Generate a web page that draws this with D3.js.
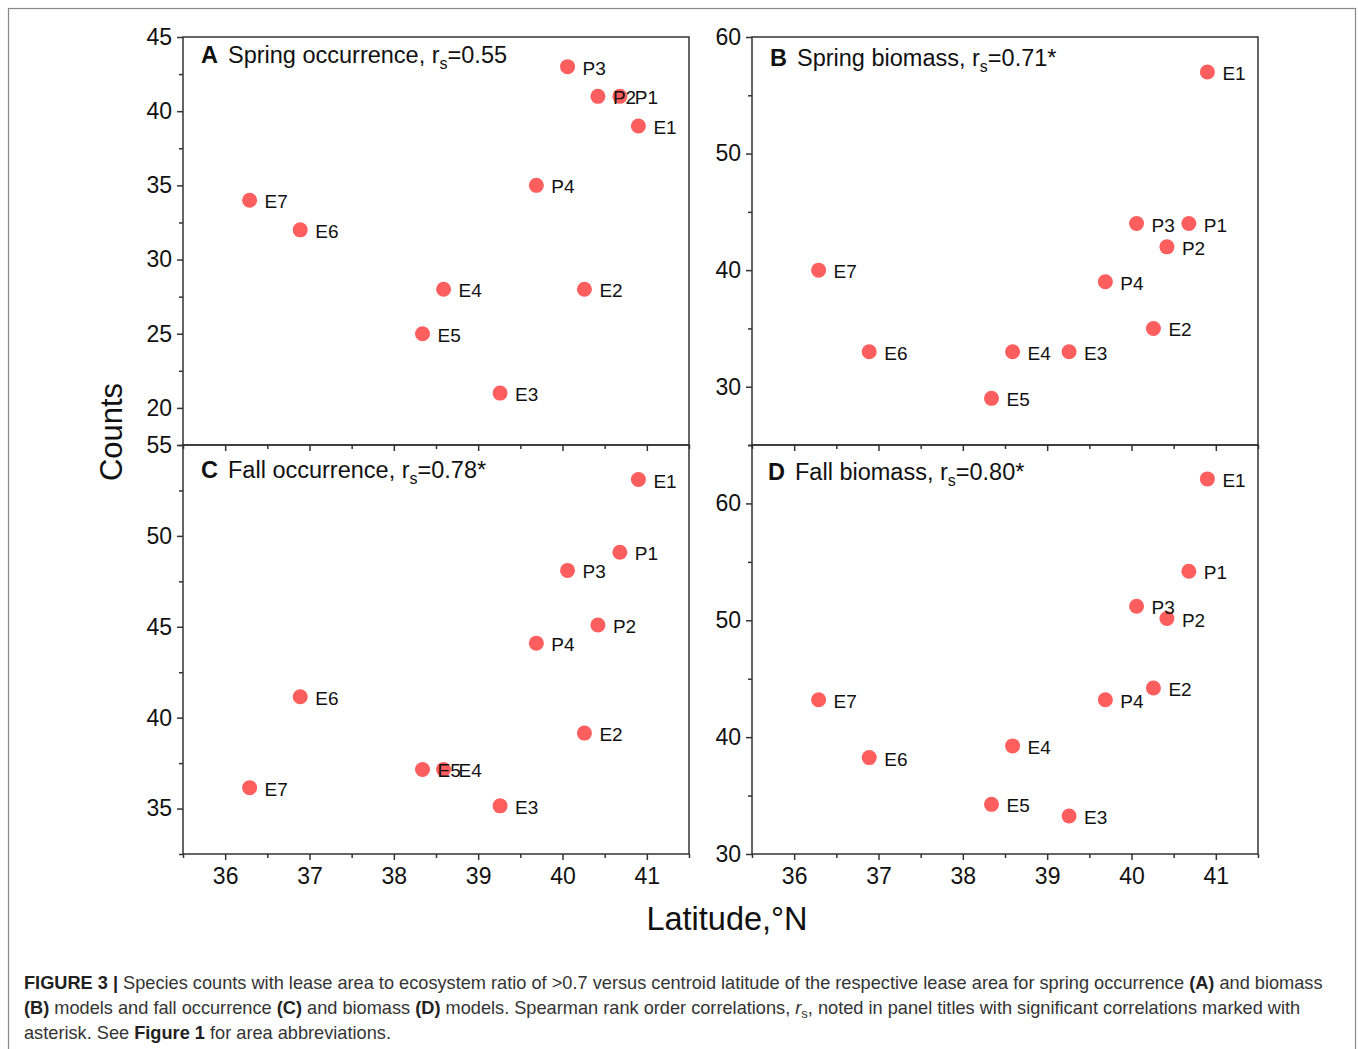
<!DOCTYPE html>
<html>
<head>
<meta charset="utf-8">
<script src="https://cdn.jsdelivr.net/npm/d3@7"></script>
<style>
  body { margin: 0; background: #fff; }
  svg { display: block; font-family: "Liberation Sans", Arial, sans-serif; }
  .axis path, .axis line { stroke: #333; stroke-width: 1.5; }
  .axis text { font-size: 23px; fill: #111; font-family: "Liberation Sans", Arial, sans-serif; }
  .lbl { font-size: 19px; fill: #111; }
</style>
</head>
<body>
<svg id="fig" width="1358" height="1049"></svg>
<script>

// site names and centroid latitude
var sites = ["E1", "E2", "E3", "E4", "E5", "E6", "E7", "P1", "P2", "P3", "P4"];
var latitude = [40.90, 40.26, 39.26, 38.59, 38.34, 36.89, 36.29, 40.68, 40.42, 40.06, 39.69];

// species counts per panel
var springOcc = [39, 28, 21, 28, 25, 32, 34, 41, 41, 43, 35];
var springBio = [57, 35, 33, 33, 29, 33, 40, 44, 42, 44, 39];
var fallOcc = [53.1, 39.15, 35.15, 37.15, 37.15, 41.15, 36.15, 49.1, 45.1, 48.1, 44.1];
var fallBio = [62.1, 44.2, 33.25, 39.25, 34.25, 38.25, 43.2, 54.2, 50.15, 51.2, 43.2];

// tick labels
var xTicks = [36, 37, 38, 39, 40, 41];
var yTicksA = [20, 25, 30, 35, 40, 45];
var yTicksB = [30, 40, 50, 60];
var yTicksC = [35, 40, 45, 50, 55];
var yTicksD = [30, 40, 50, 60];

var svg = d3.select("#fig");

// outer frame
svg.append("rect")
    .attr("x", 8.5).attr("y", 8.5)
    .attr("width", 1347).attr("height", 1060)
    .attr("fill", "none")
    .attr("stroke", "#888")
    .attr("stroke-width", 1.2);

function drawPanel(opt) {
    var x = d3.scaleLinear().domain([35.5, 41.5]).range([opt.left, opt.right]);
    var y = d3.scaleLinear().domain(opt.yDomain).range([opt.bottom, opt.top]);
    var g = svg.append("g");

    // box
    g.append("rect")
        .attr("x", opt.left).attr("y", opt.top)
        .attr("width", opt.right - opt.left)
        .attr("height", opt.bottom - opt.top)
        .attr("fill", "none")
        .attr("stroke", "#333")
        .attr("stroke-width", 1.5);

    // minor y ticks
    function isMajor(v) {
        return opt.yTicks.some(function(t) { return Math.abs(t - v) < 1e-6; });
    }
    var minorY = d3.range(opt.yDomain[0], opt.yDomain[1] + 0.001, opt.minorStep)
        .filter(function(v) { return !isMajor(v); });
    g.append("g")
        .attr("class", "axis")
        .attr("transform", "translate(" + opt.left + ",0)")
        .call(d3.axisLeft(y).tickValues(minorY).tickSize(4).tickFormat(""))
        .select(".domain").remove();

    // major y ticks
    g.append("g")
        .attr("class", "axis")
        .attr("transform", "translate(" + opt.left + ",0)")
        .call(d3.axisLeft(y).tickValues(opt.yTicks).tickSize(6).tickPadding(5).tickFormat(d3.format("d")))
        .select(".domain").remove();

    var minorX = [35.5, 36.5, 37.5, 38.5, 39.5, 40.5, 41.5];

    if (opt.xTop) {
        // ticks pointing down into the panel from the top edge
        g.append("g")
            .attr("class", "axis")
            .attr("transform", "translate(0," + opt.top + ")")
            .call(d3.axisBottom(x).tickValues(xTicks).tickSize(6).tickFormat(""))
            .select(".domain").remove();
        g.append("g")
            .attr("class", "axis")
            .attr("transform", "translate(0," + opt.top + ")")
            .call(d3.axisBottom(x).tickValues(minorX).tickSize(4).tickFormat(""))
            .select(".domain").remove();
    }
    if (opt.xBottom) {
        g.append("g")
            .attr("class", "axis")
            .attr("transform", "translate(0," + opt.bottom + ")")
            .call(d3.axisBottom(x).tickValues(minorX).tickSize(4).tickFormat(""))
            .select(".domain").remove();
        g.append("g")
            .attr("class", "axis")
            .attr("transform", "translate(0," + opt.bottom + ")")
            .call(d3.axisBottom(x).tickValues(xTicks).tickSize(6).tickPadding(8).tickFormat(d3.format("d")))
            .select(".domain").remove();
    }

    // points
    g.selectAll("circle")
        .data(sites)
        .enter().append("circle")
        .attr("cx", function(d, i) { return x(latitude[i]); })
        .attr("cy", function(d, i) { return y(opt.values[i]); })
        .attr("r", 7.5)
        .attr("fill", "#ff5e5e");

    g.selectAll("text.lbl")
        .data(sites)
        .enter().append("text")
        .attr("class", "lbl")
        .attr("x", function(d, i) { return x(latitude[i]) + 15; })
        .attr("y", function(d, i) { return y(opt.values[i]) + 8; })
        .text(function(d) { return d; });

    // panel title
    var t = g.append("text")
        .attr("x", opt.left + opt.titleDx)
        .attr("y", opt.top + opt.titleDy)
        .style("font-size", "23.5px")
        .attr("fill", "#111");
    t.append("tspan").style("font-weight", "bold").text(opt.letter);
    t.append("tspan").attr("dx", 10).text(opt.title + ", r");
    t.append("tspan").attr("dy", 6).style("font-size", "16px").text("s");
    t.append("tspan").attr("dy", -6).text(opt.stat);
}

drawPanel({left: 183, right: 689, top: 37, bottom: 445, yDomain: [17.5, 45], yTicks: yTicksA, minorStep: 2.5,
    values: springOcc, letter: "A", title: "Spring occurrence", stat: "=0.55", titleDx: 18, titleDy: 26,
    xTop: false, xBottom: false});
drawPanel({left: 752, right: 1258, top: 37, bottom: 445, yDomain: [25, 60], yTicks: yTicksB, minorStep: 5,
    values: springBio, letter: "B", title: "Spring biomass", stat: "=0.71*", titleDx: 18, titleDy: 29,
    xTop: false, xBottom: false});
drawPanel({left: 183, right: 689, top: 445, bottom: 854, yDomain: [32.5, 55], yTicks: yTicksC, minorStep: 2.5,
    values: fallOcc, letter: "C", title: "Fall occurrence", stat: "=0.78*", titleDx: 18, titleDy: 33,
    xTop: true, xBottom: true});
drawPanel({left: 752, right: 1258, top: 445, bottom: 854, yDomain: [30, 65], yTicks: yTicksD, minorStep: 5,
    values: fallBio, letter: "D", title: "Fall biomass", stat: "=0.80*", titleDx: 16, titleDy: 35,
    xTop: true, xBottom: true});

// axis titles
svg.append("text")
    .attr("transform", "translate(122,432) rotate(-90)")
    .style("text-anchor", "middle")
    .style("font-size", "31px")
    .attr("fill", "#111")
    .text("Counts");

svg.append("text")
    .attr("x", 727).attr("y", 930)
    .style("text-anchor", "middle")
    .style("font-size", "32.5px")
    .attr("fill", "#111")
    .text("Latitude,°N");

// caption
var cap = svg.append("g").style("font-size", "18.2px").attr("fill", "#333");
var l1 = cap.append("text").attr("x", 24).attr("y", 989);
l1.append("tspan").style("font-weight", "bold").attr("fill", "#222").text("FIGURE 3 | ");
l1.append("tspan").text("Species counts with lease area to ecosystem ratio of >0.7 versus centroid latitude of the respective lease area for spring occurrence ");
l1.append("tspan").style("font-weight", "bold").attr("fill", "#222").text("(A)");
l1.append("tspan").text(" and biomass");

var l2 = cap.append("text").attr("x", 24).attr("y", 1014);
l2.append("tspan").style("font-weight", "bold").attr("fill", "#222").text("(B)");
l2.append("tspan").text(" models and fall occurrence ");
l2.append("tspan").style("font-weight", "bold").attr("fill", "#222").text("(C)");
l2.append("tspan").text(" and biomass ");
l2.append("tspan").style("font-weight", "bold").attr("fill", "#222").text("(D)");
l2.append("tspan").text(" models. Spearman rank order correlations, ");
l2.append("tspan").style("font-style", "italic").text("r");
l2.append("tspan").attr("dy", 4).style("font-size", "13px").text("s");
l2.append("tspan").attr("dy", -4).text(", noted in panel titles with significant correlations marked with");

var l3 = cap.append("text").attr("x", 24).attr("y", 1039);
l3.append("tspan").text("asterisk. See ");
l3.append("tspan").style("font-weight", "bold").attr("fill", "#222").text("Figure 1");
l3.append("tspan").text(" for area abbreviations.");

</script>
</body>
</html>
